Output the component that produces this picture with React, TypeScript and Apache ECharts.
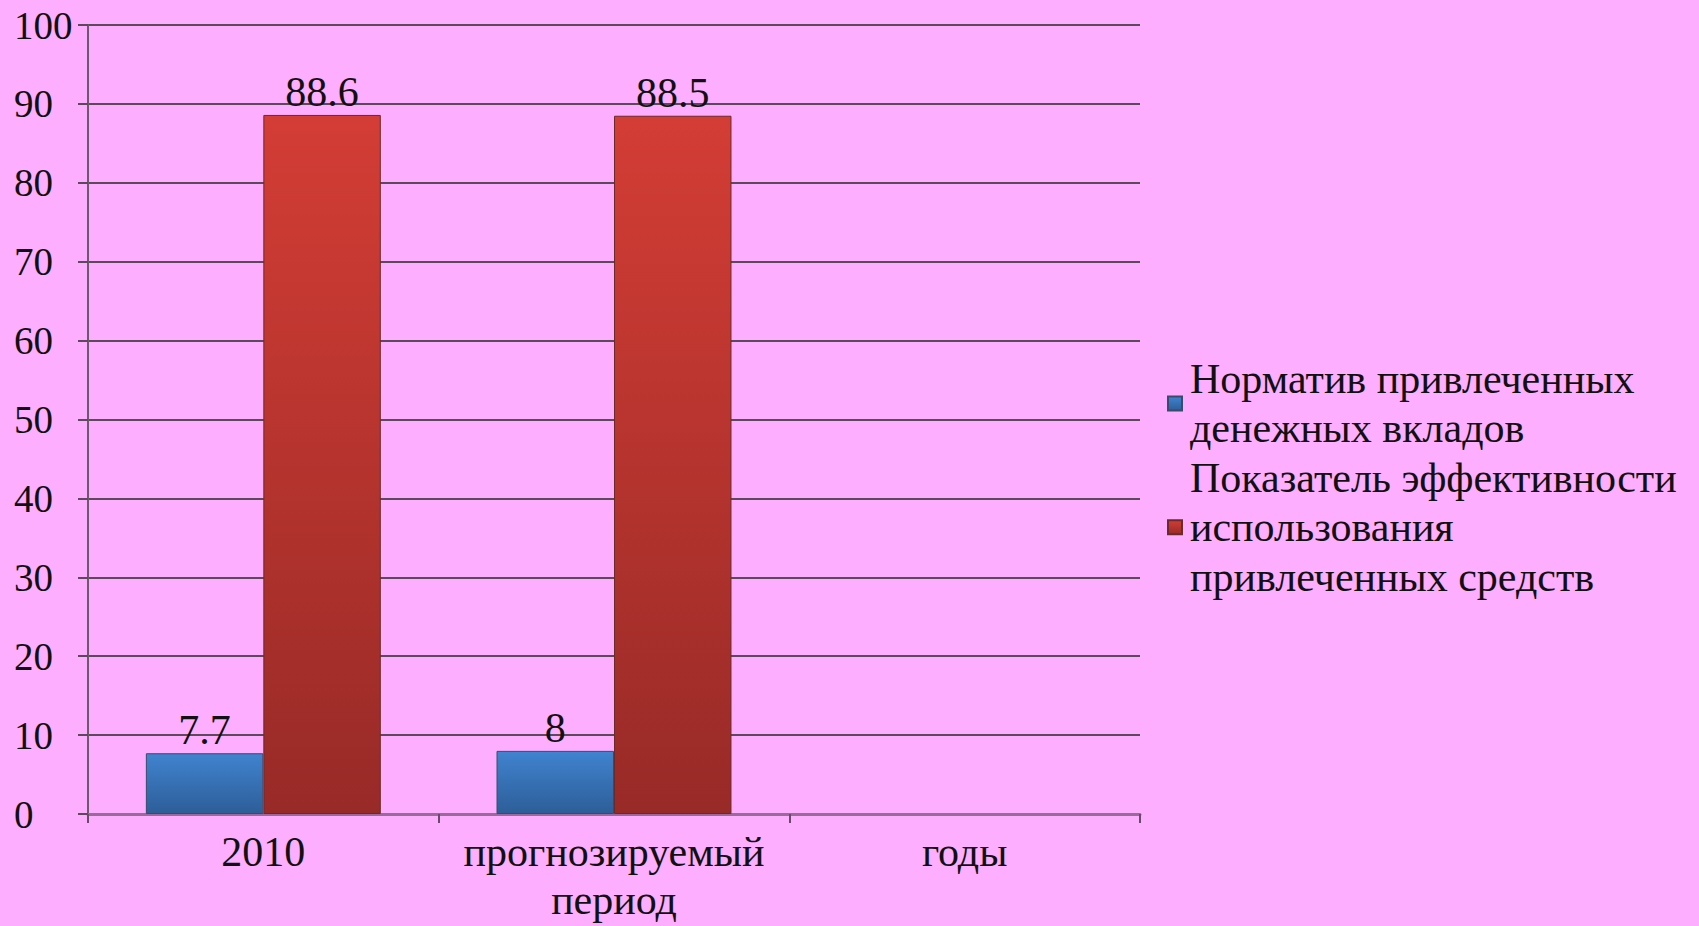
import React, { useEffect, useRef } from "react";
import * as echarts from "echarts";

const categories = ["2010", "прогнозируемый\nпериод", "годы"];
const seriesNames = [
  "Норматив привлеченных\nденежных вкладов",
  "Показатель эффективности\nиспользования\nпривлеченных средств",
];
const normValues: (number | null)[] = [7.7, 8, null];
const effValues: (number | null)[] = [88.6, 88.5, null];
const yTicks = { min: 0, max: 100, interval: 10 };

const FONT = "Liberation Serif";

export default function App() {
  const ref = useRef<HTMLDivElement>(null);
  useEffect(() => {
    if (!ref.current) return;
    const chart = echarts.init(ref.current, undefined, { renderer: "svg" });
    const labelStyle = {
      show: true,
      position: "top" as const,
      distance: 2,
      fontFamily: FONT,
      fontSize: 42,
      color: "#111",
    };
    chart.setOption({
      animation: false,
      backgroundColor: "#FEAEFE",
      textStyle: { fontFamily: FONT },
      grid: {
        left: 88,
        right: 559,
        top: 25,
        bottom: 112,
        containLabel: false,
        outerBoundsMode: "none",
      },
      legend: {
        orient: "vertical",
        left: 1162,
        top: 349,
        itemWidth: 14,
        itemHeight: 14,
        itemGap: 0,
        icon: "rect",
        textStyle: {
          fontFamily: FONT,
          fontSize: 42,
          color: "#111",
          lineHeight: 49.5,
          padding: [0, 0, 0, 3],
        },
        data: seriesNames,
      },
      xAxis: {
        type: "category",
        data: categories,
        axisLine: { lineStyle: { color: "#9a6a9a", width: 3 } },
        axisTick: { show: true, length: 9, lineStyle: { color: "#6a4a6a", width: 2 } },
        axisLabel: {
          interval: 0,
          fontFamily: FONT,
          fontSize: 42,
          color: "#111",
          lineHeight: 48,
          margin: 14,
        },
        splitLine: { show: false },
      },
      yAxis: {
        type: "value",
        min: yTicks.min,
        max: yTicks.max,
        interval: yTicks.interval,
        axisLine: { show: true, lineStyle: { color: "#6a5a6a", width: 2 } },
        axisTick: { show: true, length: 10, lineStyle: { color: "#5a4a5a", width: 2 } },
        axisLabel: {
          fontFamily: FONT,
          fontSize: 39,
          color: "#111",
          margin: 74,
          align: "left",
        },
        splitLine: { show: true, lineStyle: { color: "#5a4a5a", width: 2 } },
      },
      series: [
        {
          name: seriesNames[0],
          type: "bar",
          data: normValues,
          barGap: "0%",
          barCategoryGap: "33%",
          itemStyle: {
            color: new echarts.graphic.LinearGradient(0, 0, 0, 1, [
              { offset: 0, color: "#4083CF" },
              { offset: 1, color: "#2D5E98" },
            ]),
            borderColor: "#3a4a6a",
            borderWidth: 1,
          },
          label: labelStyle,
        },
        {
          name: seriesNames[1],
          type: "bar",
          data: effValues,
          itemStyle: {
            color: new echarts.graphic.LinearGradient(0, 0, 0, 1, [
              { offset: 0, color: "#D33D35" },
              { offset: 1, color: "#982A27" },
            ]),
            borderColor: "#6a2a2a",
            borderWidth: 1,
          },
          label: labelStyle,
        },
      ],
    });
    return () => chart.dispose();
  }, []);
  return (
    <div
      ref={ref}
      style={{ position: "fixed", left: 0, top: 0, width: 1699, height: 926 }}
    />
  );
}
